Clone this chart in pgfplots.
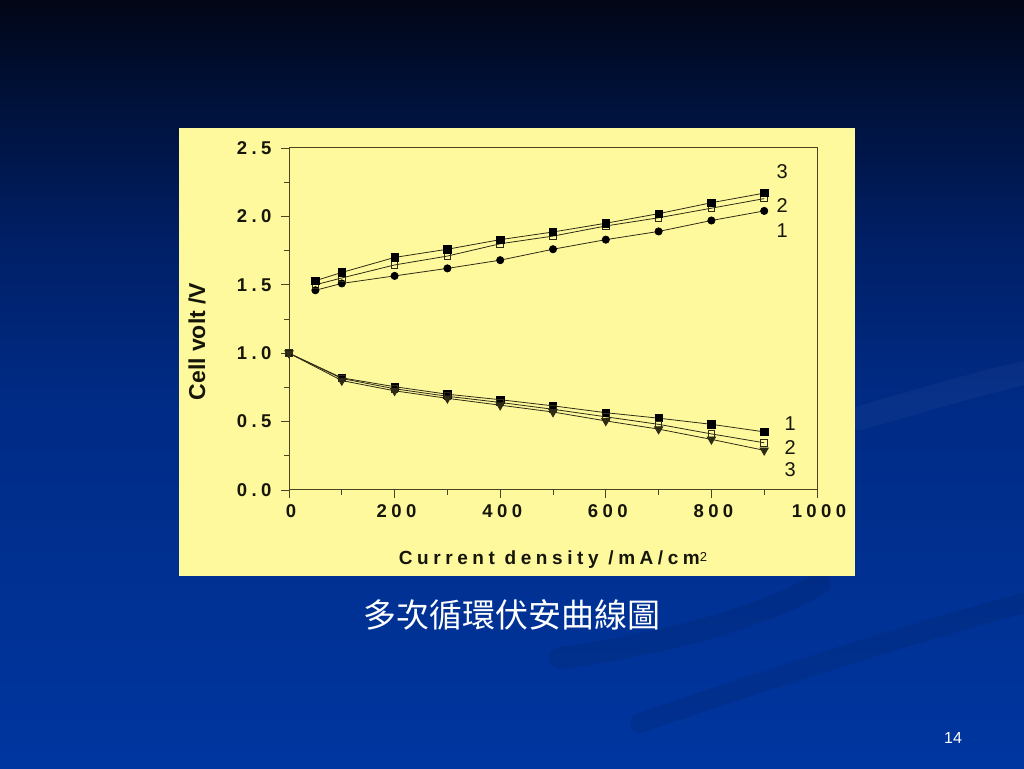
\documentclass[border=0pt]{standalone}
\usepackage{pgfplots}
\pgfplotsset{compat=1.18}
\usepackage{pgfplotstable}
\usepackage{fontspec}
\setmainfont{Liberation Sans}
\newfontfamily\spaced[LetterSpace=24]{Liberation Sans}
\newfontfamily\cjk{Noto Sans CJK TC}

\definecolor{panel}{HTML}{FFF99E}
\definecolor{axcol}{HTML}{4A4520}
\definecolor{lncol}{HTML}{2E2C14}
\definecolor{txt}{HTML}{151508}
\definecolor{bgA}{HTML}{0036A0}
\definecolor{bgB}{HTML}{002B85}
\definecolor{bgC}{HTML}{002068}
\definecolor{bgD}{HTML}{00113A}
\definecolor{bgE}{HTML}{020616}
\pgfdeclareverticalshading{slidebg}{100bp}{color(0bp)=(bgA); color(25bp)=(bgA); color(48.96bp)=(bgB); color(58.72bp)=(bgC); color(68.49bp)=(bgD); color(75bp)=(bgE); color(100bp)=(bgE)}

% upper branch (charge)
\pgfplotstableread{
x    c1    c2    c3
50   1.46  1.50  1.53
100  1.51  1.55  1.59
200  1.565 1.645 1.70
300  1.62  1.71  1.76
400  1.68  1.80  1.83
500  1.76  1.856 1.886
600  1.83  1.93  1.95
700  1.89  1.99  2.02
800  1.97  2.06  2.10
900  2.04  2.13  2.17
}\upperdata
% lower branch (discharge)
\pgfplotstableread{
x    d1    d2    d3
0    1.00  1.00  1.00
100  0.82  0.815 0.80
200  0.755 0.74  0.725
300  0.70  0.685 0.67
400  0.66  0.64  0.62
500  0.615 0.59  0.57
600  0.565 0.535 0.505
700  0.525 0.48  0.445
800  0.48  0.41  0.37
900  0.425 0.345 0.29
}\lowerdata

\begin{document}
\begin{tikzpicture}[x=1pt,y=1pt]
\useasboundingbox (0,0) rectangle (1024,768);
\shade[shading=slidebg] (0,0) rectangle (1024,768);
% faint swooshes
\draw[black, opacity=0.08, line width=22pt, line cap=round]
  (560,110) .. controls (700,130) and (780,160) .. (820,185);
\draw[black, opacity=0.08, line width=20pt, line cap=round]
  (640,45) .. controls (800,100) and (930,140) .. (1024,165);
\draw[white, opacity=0.03, line width=24pt, line cap=round]
  (860,350) .. controls (930,370) and (980,385) .. (1024,395);

\fill[panel] (179,192) rectangle (855,640);

\begin{axis}[
    at={(289pt,278pt)}, anchor=south west,
    width=528pt, height=342pt, scale only axis,
    xmin=0, xmax=1000, ymin=0, ymax=2.5,
    xtick={0,200,...,1000}, minor x tick num=1,
    ytick={0,0.5,...,2.5}, minor y tick num=1,
    tick align=outside, tick pos=left,
    major tick length=8pt, minor tick length=5pt,
    axis line style={axcol, line width=1pt},
    every tick/.style={axcol, line width=0.9pt},
    /pgf/number format/assume math mode=true,
    /pgf/number format/1000 sep={},
    yticklabel style={/pgf/number format/.cd, fixed, fixed zerofill, precision=1, /tikz/.cd, xshift=-6pt},
    xticklabel style={yshift=-3pt, xshift=2pt},
    tick label style={font=\spaced\bfseries\fontsize{18.5}{20}\selectfont, txt},
    xlabel={{\spaced\bfseries\fontsize{19}{21}\selectfont Current density /mA/cm}\raisebox{0.55ex}{\fontsize{13}{15}\selectfont 2}},
    xlabel style={yshift=-26pt, txt},
    ylabel={\bfseries\fontsize{23}{25}\selectfont Cell volt /V},
    ylabel style={at={(axis description cs:-0.174,0.434)}, anchor=center, txt},
    clip=false,
    every axis plot/.append style={lncol, line width=0.8pt, mark options={black, solid}},
]
\addplot[mark=*, mark size=3.6pt] table[x=x, y=c1] {\upperdata};
\addplot[mark=square, mark size=3.3pt, mark options={fill=panel, line width=1pt}] table[x=x, y=c2] {\upperdata};
\addplot[mark=square*, mark size=3.7pt] table[x=x, y=c3] {\upperdata};

\addplot[mark=square*, mark size=3.7pt] table[x=x, y=d1] {\lowerdata};
\addplot[mark=square, mark size=3.3pt, mark options={fill=panel, line width=1pt}] table[x=x, y=d2] {\lowerdata};
\addplot[mark=triangle*, mark size=4.8pt, mark options={rotate=180}] table[x=x, y=d3] {\lowerdata};

\tikzset{side/.style={font=\fontsize{20}{22}\selectfont, txt}}
\node[side] at (axis cs:934,2.325) {3};
\node[side] at (axis cs:934,2.083) {2};
\node[side] at (axis cs:934,1.893) {1};
\node[side] at (axis cs:949,0.482) {1};
\node[side] at (axis cs:949,0.314) {2};
\node[side] at (axis cs:949,0.146) {3};
\end{axis}

\node[white, font=\cjk\fontsize{33}{36}\selectfont] at (512,153) {多次循環伏安曲線圖};
\node[white, font=\fontsize{16}{18}\selectfont] at (953,30) {14};
\end{tikzpicture}
\end{document}
